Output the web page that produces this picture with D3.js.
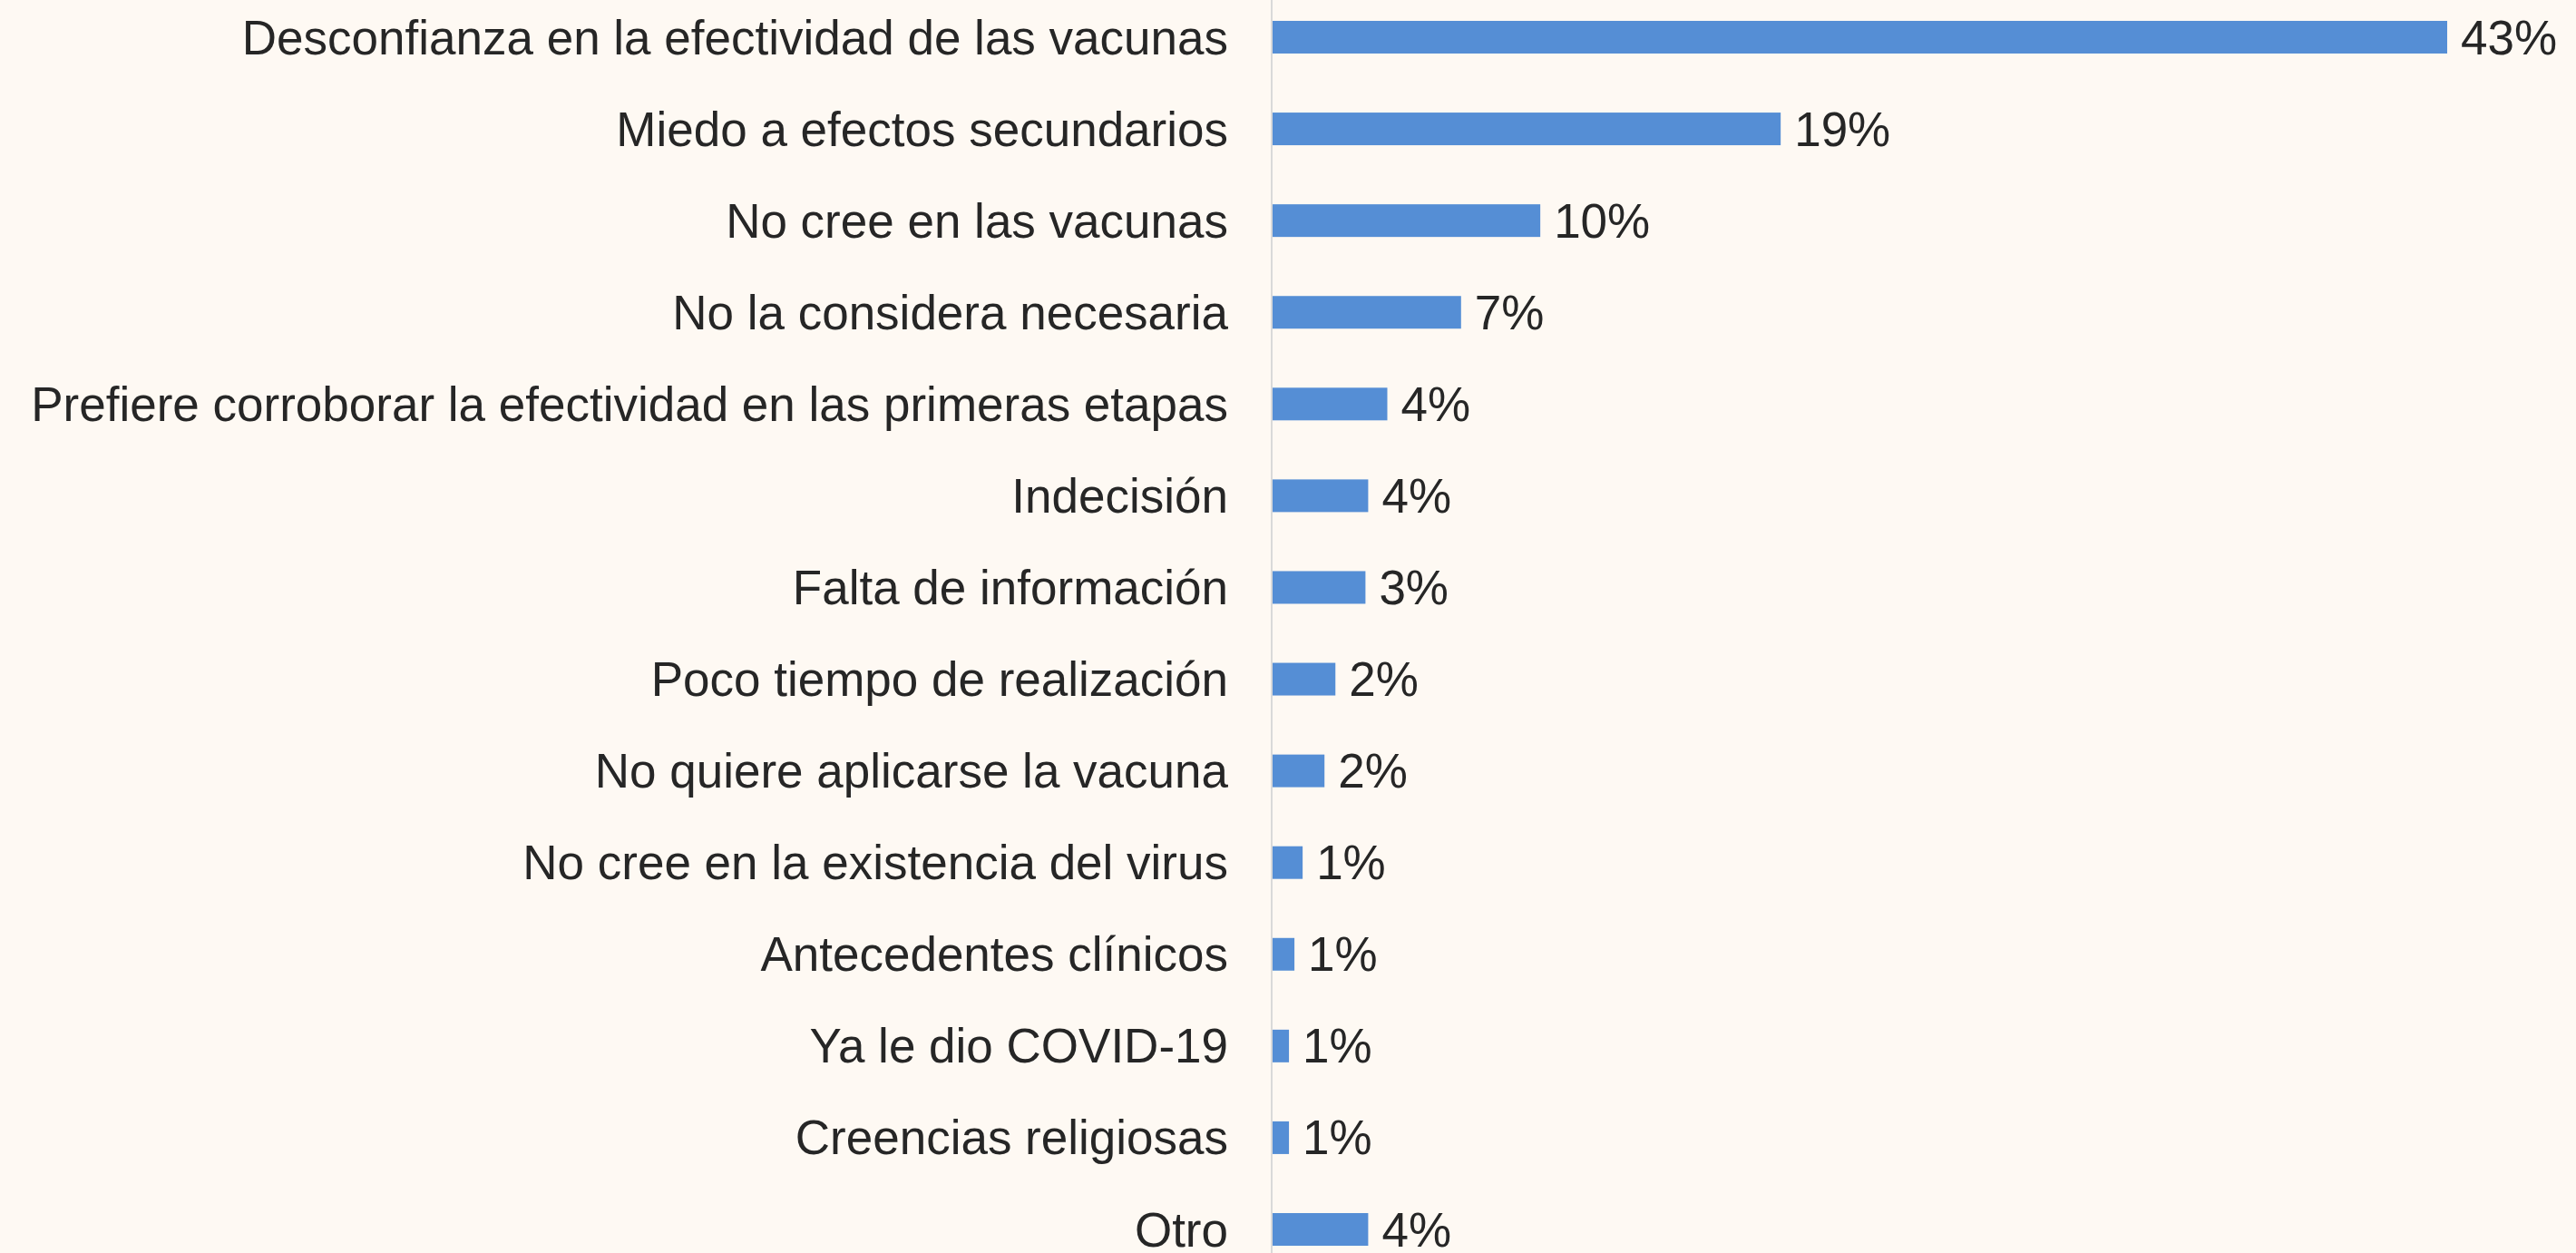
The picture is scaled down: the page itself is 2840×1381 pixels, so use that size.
<!DOCTYPE html>
<html>
<head>
<meta charset="utf-8">
<script src="https://cdn.jsdelivr.net/npm/d3@7"></script>
<style>
  html, body { margin: 0; padding: 0; background: #fef9f3; }
  svg { display: block; }
</style>
</head>
<body>
<div id="chart"></div>
<script>
// motivos de no vacunarse (% de respuestas)
var reasons = [
  "Desconfianza en la efectividad de las vacunas",
  "Miedo a efectos secundarios",
  "No cree en las vacunas",
  "No la considera necesaria",
  "Prefiere corroborar la efectividad en las primeras etapas",
  "Indecisión",
  "Falta de información",
  "Poco tiempo de realización",
  "No quiere aplicarse la vacuna",
  "No cree en la existencia del virus",
  "Antecedentes clínicos",
  "Ya le dio COVID-19",
  "Creencias religiosas",
  "Otro"
];
var shares = [43, 18.6, 9.8, 6.9, 4.2, 3.5, 3.4, 2.3, 1.9, 1.1, 0.8, 0.6, 0.6, 3.5];

var width = 2840, height = 1381;
var margin = {top: 23, right: 0, bottom: 8, left: 1403};

var data = reasons.map(function(r, i) { return {reason: r, value: shares[i]}; });

var svg = d3.select("#chart")
  .append("svg")
    .attr("width", width)
    .attr("height", height)
    .style("font-family", "'Liberation Sans', Arial, sans-serif");

svg.append("rect")
    .attr("width", width)
    .attr("height", height)
    .attr("fill", "#fef9f3");

var x = d3.scaleLinear()
    .domain([0, 43])
    .range([margin.left, 2698]);

var y = d3.scaleBand()
    .domain(reasons)
    .range([margin.top, height - margin.bottom])
    .paddingInner(0.644)
    .paddingOuter(0);

// category labels
svg.append("g")
    .attr("transform", "translate(" + (margin.left - 49) + ",0)")
    .call(d3.axisLeft(y).tickSize(0).tickPadding(0))
    .call(function(g) { g.select(".domain").remove(); })
    .selectAll("text")
      .attr("fill", "#262626")
      .style("font-size", "53px")
      .attr("dy", "0.35em");

svg.append("g").selectAll("rect")
    .data(data)
    .enter()
    .append("rect")
      .attr("x", x(0))
      .attr("y", function(d) { return y(d.reason); })
      .attr("width", function(d) { return x(d.value) - x(0); })
      .attr("height", y.bandwidth())
      .attr("fill", "#558ed5");

// vertical axis line
svg.append("line")
    .attr("x1", x(0) - 1)
    .attr("x2", x(0) - 1)
    .attr("y1", 0)
    .attr("y2", height)
    .attr("stroke", "#d9d9d9")
    .attr("stroke-width", 2);

svg.append("g").selectAll("text")
    .data(data)
    .enter()
    .append("text")
      .attr("x", function(d) { return x(d.value) + 15; })
      .attr("y", function(d) { return y(d.reason) + y.bandwidth() / 2; })
      .attr("dy", "0.35em")
      .attr("fill", "#262626")
      .style("font-size", "53px")
      .text(function(d) { return Math.round(d.value) + "%"; });
</script>
</body>
</html>
